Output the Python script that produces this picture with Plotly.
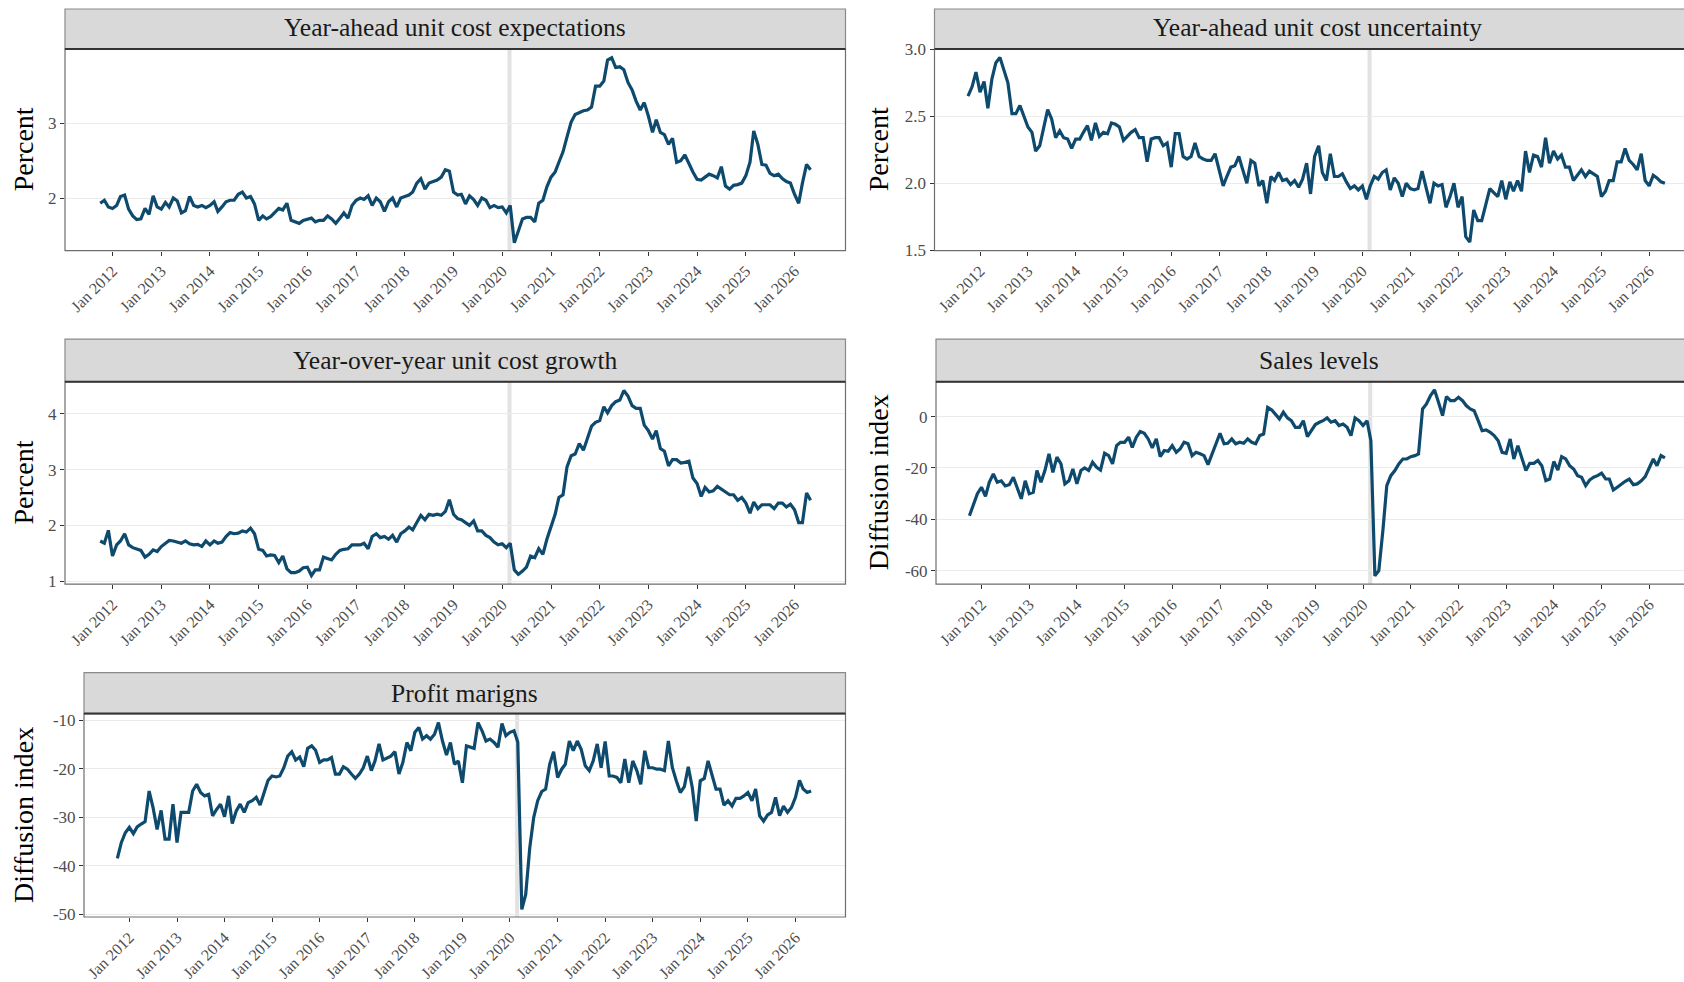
import pandas as pd
import plotly.graph_objects as go

# ---------------- data (monthly, Oct 2011 - May 2026) ----------------
dates = pd.date_range("2011-10-01", "2026-05-01", freq="MS")

cost_expectations = [
    1.93, 1.97, 1.88,
    1.86, 1.90, 2.02, 2.04, 1.85, 1.76, 1.71, 1.72, 1.86, 1.78, 2.03, 1.88,
    1.85, 1.94, 1.88, 2.00, 1.96, 1.80, 1.83, 2.02, 1.90, 1.88, 1.90, 1.87,
    1.90, 1.95, 1.82, 1.88, 1.95, 1.97, 1.97, 2.05, 2.08, 2.00, 2.02, 1.92,
    1.70, 1.76, 1.72, 1.75, 1.80, 1.86, 1.84, 1.93, 1.70, 1.68, 1.66, 1.70,
    1.72, 1.73, 1.68, 1.70, 1.70, 1.76, 1.72, 1.66, 1.73, 1.80, 1.73, 1.90,
    1.97, 2.00, 1.98, 2.03, 1.90, 2.00, 1.95, 1.82, 1.95, 2.00, 1.88, 2.00,
    2.02, 2.04, 2.08, 2.20, 2.26, 2.12, 2.20, 2.22, 2.24, 2.28, 2.38, 2.36,
    2.08, 2.04, 2.05, 1.92, 2.03, 1.98, 1.90, 2.00, 1.97, 1.87, 1.90, 1.87,
    1.88, 1.80, 1.90, 1.40, 1.55, 1.72, 1.74, 1.74, 1.68, 1.93, 1.97, 2.15,
    2.28, 2.35, 2.48, 2.62, 2.82, 3.02, 3.12, 3.15, 3.17, 3.18, 3.22, 3.50,
    3.50, 3.57, 3.85, 3.88, 3.75, 3.76, 3.72, 3.55, 3.45, 3.30, 3.18, 3.28,
    3.10, 2.88, 3.05, 2.88, 2.85, 2.72, 2.80, 2.48, 2.50, 2.58, 2.45, 2.35,
    2.25, 2.24, 2.28, 2.32, 2.30, 2.27, 2.42, 2.16, 2.12, 2.17, 2.18, 2.20,
    2.30, 2.48, 2.90, 2.72, 2.45, 2.44, 2.33, 2.30, 2.32, 2.26, 2.22, 2.20,
    2.05, 1.93, 2.20, 2.45, 2.38,
]

cost_uncertainty = [
    2.65, 2.72, 2.83,
    2.68, 2.76, 2.56, 2.78, 2.90, 2.94, 2.85, 2.75, 2.52, 2.52, 2.58, 2.50,
    2.42, 2.38, 2.24, 2.28, 2.42, 2.55, 2.48, 2.34, 2.39, 2.34, 2.33, 2.26,
    2.33, 2.33, 2.38, 2.43, 2.32, 2.45, 2.35, 2.38, 2.37, 2.45, 2.44, 2.42,
    2.32, 2.35, 2.38, 2.40, 2.34, 2.34, 2.16, 2.33, 2.34, 2.34, 2.28, 2.30,
    2.12, 2.37, 2.37, 2.20, 2.18, 2.20, 2.30, 2.20, 2.18, 2.17, 2.17, 2.22,
    2.10, 1.98, 2.05, 2.12, 2.13, 2.20, 2.10, 2.00, 2.17, 2.15, 1.98, 2.02,
    1.85, 2.05, 2.02, 2.08, 2.02, 2.03, 1.99, 2.02, 1.97, 2.03, 2.15, 1.92,
    2.20, 2.28, 2.08, 2.02, 2.22, 2.05, 2.05, 2.07, 2.01, 1.96, 1.98, 1.95,
    1.98, 1.88, 1.98, 2.05, 2.03, 2.08, 2.10, 1.95, 2.04, 2.00, 1.90, 2.00,
    1.96, 1.95, 1.96, 2.09, 1.97, 1.85, 2.00, 1.98, 1.99, 1.82, 1.90, 2.00,
    1.82, 1.90, 1.60, 1.56, 1.80, 1.72, 1.72, 1.85, 1.96, 1.93, 1.90, 2.02,
    1.88, 2.01, 1.94, 2.02, 1.94, 2.24, 2.08, 2.21, 2.20, 2.12, 2.34, 2.15,
    2.24, 2.18, 2.21, 2.12, 2.12, 2.02, 2.06, 2.10, 2.05, 2.09, 2.07, 2.05,
    1.90, 1.94, 2.02, 2.02, 2.16, 2.16, 2.26, 2.17, 2.14, 2.10, 2.22, 2.02,
    1.98, 2.06, 2.04, 2.01, 2.00,
]

cost_growth = [
    1.72, 1.68, 1.91,
    1.45, 1.65, 1.72, 1.85, 1.65, 1.60, 1.58, 1.55, 1.43, 1.48, 1.56, 1.53,
    1.62, 1.68, 1.73, 1.72, 1.70, 1.68, 1.72, 1.67, 1.65, 1.66, 1.62, 1.72,
    1.65, 1.72, 1.68, 1.70, 1.80, 1.87, 1.85, 1.86, 1.90, 1.88, 1.95, 1.85,
    1.57, 1.55, 1.45, 1.47, 1.46, 1.33, 1.45, 1.22, 1.15, 1.15, 1.18, 1.24,
    1.25, 1.10, 1.20, 1.20, 1.43, 1.40, 1.38, 1.48, 1.55, 1.57, 1.58, 1.65,
    1.65, 1.65, 1.68, 1.58, 1.80, 1.85, 1.78, 1.80, 1.75, 1.82, 1.70, 1.85,
    1.90, 1.97, 1.92, 2.05, 2.18, 2.10, 2.20, 2.18, 2.20, 2.18, 2.25, 2.46,
    2.20, 2.12, 2.10, 2.05, 2.00, 2.08, 1.90, 1.90, 1.82, 1.78, 1.70, 1.65,
    1.67, 1.60, 1.68, 1.20, 1.12, 1.18, 1.25, 1.45, 1.42, 1.58, 1.48, 1.75,
    1.98, 2.20, 2.50, 2.55, 3.05, 3.25, 3.28, 3.47, 3.35, 3.55, 3.78, 3.85,
    3.88, 4.13, 4.02, 4.15, 4.22, 4.25, 4.42, 4.32, 4.15, 4.10, 4.10, 3.80,
    3.70, 3.55, 3.70, 3.38, 3.33, 3.07, 3.18, 3.18, 3.12, 3.13, 3.15, 2.85,
    2.75, 2.52, 2.68, 2.60, 2.62, 2.70, 2.65, 2.60, 2.55, 2.55, 2.45, 2.50,
    2.40, 2.22, 2.42, 2.30, 2.37, 2.37, 2.37, 2.30, 2.40, 2.40, 2.33, 2.38,
    2.28, 2.05, 2.05, 2.58, 2.45,
]

sales_levels = [
    -38.6, -34.0, -30.0,
    -27.5, -31.0, -25.6, -22.3, -25.6, -25.0, -27.0, -26.5, -23.6, -27.5, -32.0, -25.0,
    -30.0, -29.5, -21.0, -25.6, -21.0, -14.5, -21.7, -15.8, -18.4, -26.2, -25.0, -20.4,
    -26.2, -21.0, -20.0, -21.0, -17.8, -19.7, -20.8, -14.3, -15.2, -18.4, -11.3, -10.0,
    -10.0, -8.0, -12.0, -8.0, -5.8, -6.5, -8.7, -12.2, -8.7, -15.6, -13.2, -13.5,
    -11.3, -13.9, -12.6, -10.0, -10.6, -15.2, -13.9, -14.5, -15.2, -18.7, -14.5, -10.0,
    -6.5, -10.6, -10.4, -8.7, -10.6, -10.0, -10.4, -8.7, -10.0, -10.6, -7.4, -6.8,
    3.6, 2.6, 1.0, -0.9, 1.7, -0.5, -1.6, -4.2, -4.2, -1.6, -7.8, -5.5,
    -3.1, -2.2, -1.6, -0.5, -2.2, -1.6, -3.5, -2.9, -4.2, -7.4, -0.5, -1.6,
    -3.5, -1.6, -9.4, -62.0, -60.0, -44.4, -26.9, -23.0, -21.0, -18.4, -16.5, -16.5,
    -15.6, -15.2, -14.5, 3.0, 4.9, 8.2, 10.4, 5.6, 0.4, 7.8, 6.2, 6.2,
    7.5, 6.2, 4.3, 3.0, 2.3, -1.6, -5.5, -5.2, -6.1, -7.4, -9.4, -13.9,
    -14.3, -8.7, -16.5, -11.3, -15.8, -21.0, -18.2, -18.2, -17.1, -19.1, -24.9, -24.3,
    -17.5, -20.8, -15.6, -16.5, -19.1, -20.4, -23.0, -23.6, -26.9, -24.7, -23.6, -23.0,
    -22.0, -24.3, -24.3, -28.6, -27.5, -26.2, -25.2, -24.3, -26.5, -26.2, -25.0, -23.4,
    -19.7, -16.5, -19.1, -15.2, -16.1,
]

profit_margins = [
    -38.5, -35.2, -33.2,
    -32.1, -33.4, -32.0, -31.4, -30.9, -24.6, -28.0, -32.5, -28.6, -34.5, -34.5, -27.3,
    -35.2, -29.0, -29.0, -29.0, -24.6, -23.2, -24.9, -25.6, -25.3, -29.7, -28.4, -27.3,
    -29.9, -25.6, -31.3, -28.7, -27.3, -29.0, -27.0, -26.6, -25.9, -27.5, -24.9, -22.4,
    -21.5, -21.7, -21.5, -19.8, -17.4, -16.5, -18.2, -17.6, -19.6, -15.8, -15.3, -16.2,
    -18.7, -18.2, -18.2, -17.7, -21.1, -21.1, -19.6, -20.1, -21.1, -22.0, -21.1, -19.8,
    -17.4, -20.4, -18.4, -14.9, -18.2, -17.7, -17.4, -16.5, -21.1, -18.7, -14.6, -16.3,
    -12.5, -11.5, -13.9, -13.2, -13.9, -12.9, -10.5, -14.3, -17.2, -14.6, -19.1, -18.4,
    -22.9, -15.3, -15.6, -15.8, -10.5, -12.2, -14.3, -13.9, -14.6, -15.6, -10.7, -13.2,
    -12.5, -12.2, -14.5, -49.0, -45.9, -36.3, -30.1, -26.6, -24.7, -24.2, -19.1, -16.5,
    -21.8, -20.1, -19.1, -14.3, -16.3, -14.3, -16.0, -19.4, -20.4, -18.4, -14.9, -19.8,
    -14.4, -21.5, -21.5, -21.8, -22.9, -18.0, -22.9, -18.4, -20.4, -23.2, -16.3, -19.8,
    -19.8, -20.1, -20.1, -20.4, -14.3, -19.8, -22.5, -24.9, -23.7, -19.6, -23.9, -30.8,
    -22.5, -22.0, -18.4, -21.1, -24.2, -24.2, -27.5, -26.6, -27.7, -26.1, -26.1, -25.6,
    -24.9, -26.6, -24.2, -29.7, -30.8, -29.5, -29.0, -25.9, -29.7, -27.7, -29.0, -28.0,
    -25.9, -22.4, -24.2, -24.9, -24.6,
]

panel_titles = ["Year-ahead unit cost expectations", "Year-ahead unit cost uncertainty",
                "Year-over-year unit cost growth", "Sales levels", "Profit marigns"]
y_titles = ["Percent", "Percent", "Percent", "Diffusion index", "Diffusion index"]
y_tickvals = [[2, 3], [1.5, 2.0, 2.5, 3.0], [1, 2, 3, 4], [-60, -40, -20, 0], [-50, -40, -30, -20, -10]]
y_ticktext = [["2", "3"], ["1.5", "2.0", "2.5", "3.0"], ["1", "2", "3", "4"],
              ["-60", "-40", "-20", "0"], ["-50", "-40", "-30", "-20", "-10"]]
x_tick_years = list(range(2012, 2027))
x_tickvals = [f"{y}-01-01" for y in x_tick_years]
x_ticktext = [f"Jan {y}" for y in x_tick_years]
event_date = "2020-02-25"

series = [cost_expectations, cost_uncertainty, cost_growth, sales_levels, profit_margins]

# ---------------- layout geometry (target pixels in the photographed picture) ----------------
W, H = 1684, 982
V_OFF, V_SCALE = 8.6, 0.98   # observed vertical mapping figure -> picture


def fx(x):
    return x / W


def fy(t):
    d = max(0.0, (t - V_OFF) / V_SCALE)
    return 1 - d / H


geo = [
    dict(x0=65, x1=845.5, xf=845.5, yt=48.5, yb=250, st=6, yr=[1.295, 4.0],
         xr=["2011-01-10", "2027-01-18"], tx=23.6),
    dict(x0=934.5, x1=1684, xf=1701, yt=48.5, yb=250, st=6, yr=[1.497, 3.003],
         xr=["2011-01-18", "2026-09-24"], tx=878.5),
    dict(x0=65, x1=845.5, xf=845.5, yt=381, yb=583.3, st=338.5, yr=[0.946, 4.58],
         xr=["2011-01-10", "2027-01-18"], tx=23.6),
    dict(x0=936, x1=1684, xf=1701, yt=381, yb=583.3, st=338.5, yr=[-65.2, 13.6],
         xr=["2011-01-18", "2026-09-24"], tx=878.5),
    dict(x0=84, x1=845.5, xf=845.5, yt=712.7, yb=916, st=671.7, yr=[-50.56, -8.64],
         xr=["2011-01-18", "2027-01-20"], tx=23.6),
]

LINE = "#0E4A6E"
SERIF = "Liberation Serif"

fig = go.Figure()
shapes, annotations = [], []
layout_axes = {}

for i, (g, vals) in enumerate(zip(geo, series)):
    n = i + 1
    xa = "x" if n == 1 else f"x{n}"
    ya = "y" if n == 1 else f"y{n}"
    fig.add_trace(go.Scatter(x=dates, y=vals, mode="lines", xaxis=xa, yaxis=ya,
                             line=dict(color=LINE, width=3.2), showlegend=False,
                             hoverinfo="x+y"))
    layout_axes["xaxis" if n == 1 else f"xaxis{n}"] = dict(
        domain=[fx(g["x0"]), min(1.0, fx(g["x1"]))], anchor=ya, type="date",
        range=g["xr"], tickvals=x_tickvals, ticktext=x_ticktext,
        tickangle=-45, ticks="outside", ticklen=4, tickcolor="#333333", tickwidth=1,
        showgrid=False, zeroline=False, showline=False,
        tickfont=dict(family=SERIF, size=16, color="#4d4d4d"))
    layout_axes["yaxis" if n == 1 else f"yaxis{n}"] = dict(
        domain=[fy(g["yb"]), fy(g["yt"])], anchor=xa, range=g["yr"],
        tickvals=y_tickvals[i], ticktext=y_ticktext[i],
        ticks="outside", ticklen=4, tickcolor="#333333", tickwidth=1,
        showgrid=True, gridcolor="#ebebeb", gridwidth=1.4, zeroline=False, showline=False,
        tickfont=dict(family=SERIF, size=17, color="#4d4d4d"))
    shapes.append(dict(type="line", xref=xa, yref=f"{ya} domain", x0=event_date, x1=event_date,
                       y0=0, y1=1, line=dict(color="#e2e2e2", width=4), layer="below"))
    shapes.append(dict(type="rect", xref="paper", yref="paper",
                       x0=fx(g["x0"]), x1=fx(g["xf"]), y0=fy(g["yb"]), y1=fy(g["yt"]),
                       line=dict(color="#6e6e6e", width=1.2), fillcolor="rgba(0,0,0,0)",
                       layer="above"))
    shapes.append(dict(type="rect", xref="paper", yref="paper",
                       x0=fx(g["x0"]), x1=fx(g["xf"]), y0=fy(g["yt"]), y1=fy(g["st"]),
                       line=dict(color="#8a8a8a", width=1.2), fillcolor="#d9d9d9",
                       layer="above"))
    shapes.append(dict(type="line", xref="paper", yref="paper",
                       x0=fx(g["x0"]), x1=fx(g["xf"]), y0=fy(g["yt"]), y1=fy(g["yt"]),
                       line=dict(color="#333333", width=2), layer="above"))
    annotations.append(dict(text=panel_titles[i], xref="paper", yref="paper",
                            x=fx((g["x0"] + g["xf"]) / 2), y=fy((g["st"] + g["yt"]) / 2),
                            xanchor="center", yanchor="middle", showarrow=False,
                            font=dict(family=SERIF, size=25.5, color="#1a1a1a")))
    annotations.append(dict(text=y_titles[i], xref="paper", yref="paper",
                            x=fx(g["tx"]), y=fy((g["yt"] + g["yb"]) / 2), textangle=-90,
                            xanchor="center", yanchor="middle", showarrow=False,
                            font=dict(family=SERIF, size=28, color="#000000")))

fig.update_layout(width=W, height=H, margin=dict(l=0, r=0, t=0, b=0),
                  paper_bgcolor="white", plot_bgcolor="white",
                  shapes=shapes, annotations=annotations, **layout_axes)

fig.write_html(
    "out.html",
    config={"displayModeBar": False},
    post_script=(
        "document.body.style.margin='0';document.body.style.overflow='hidden';"
        "var d=document.getElementById('{plot_id}');"
        "d.style.position='fixed';d.style.left='0px';d.style.top='0px';"
    ),
)
